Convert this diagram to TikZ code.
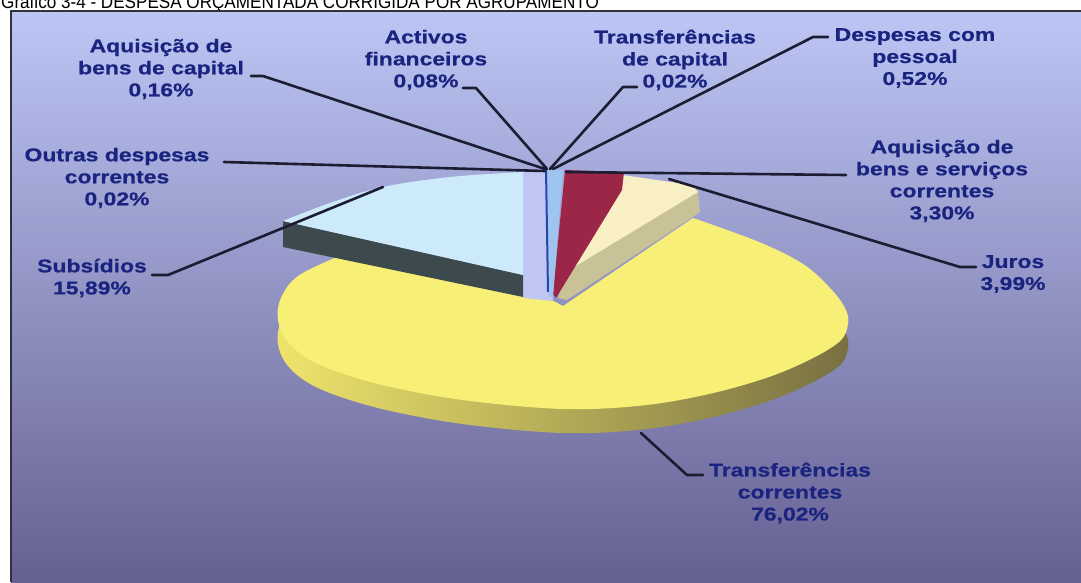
\documentclass[tikz,border=0pt]{standalone}
\usepackage{fontspec}
\setmainfont{Liberation Sans}
\newfontfamily\labfont[FakeStretch=1.24,FakeBold=0.6]{Liberation Sans Bold}
\newfontfamily\titfont[FakeStretch=0.9]{Liberation Sans}
\definecolor{labblue}{RGB}{26,36,128}
\definecolor{leadc}{RGB}{28,28,50}
\definecolor{framec}{RGB}{50,50,60}
\definecolor{bgtop}{RGB}{188,198,244}
\definecolor{bgmid}{RGB}{150,158,222}
\definecolor{bgbot}{RGB}{102,96,146}
\definecolor{ytop}{RGB}{248,240,118}
\definecolor{ysideL}{RGB}{238,228,108}
\definecolor{ysideM}{RGB}{206,196,92}
\definecolor{ysideR}{RGB}{120,112,66}
\definecolor{subtop}{RGB}{204,234,250}
\definecolor{subside}{RGB}{60,74,78}
\definecolor{redc}{RGB}{156,38,72}
\definecolor{creamtop}{RGB}{248,240,196}
\definecolor{creamside}{RGB}{200,194,150}
\definecolor{lavc}{RGB}{192,198,242}
\definecolor{bluedark}{RGB}{40,70,170}
\definecolor{bluelight}{RGB}{160,196,240}
\begin{document}
\begin{tikzpicture}[x=1pt,y=-1pt,
  lab/.style={font=\labfont\fontsize{18.5}{22}\selectfont, text=labblue, align=center, inner sep=0pt},
  leader/.style={draw=leadc, line width=2.6pt, line join=round, line cap=round}]
\useasboundingbox (0,0) rectangle (1081,582);
\clip (0,0) rectangle (1081,582);
\fill[white] (0,0) rectangle (1081,582);
\node[anchor=base west, inner sep=0pt, font=\titfont\fontsize{19}{19}\selectfont] (title) at (1,8.5) {Gráfico 3-4 - DESPESA ORÇAMENTADA CORRIGIDA POR AGRUPAMENTO};
\shade[top color=bgtop, middle color=bgmid, bottom color=bgbot] (11,11) rectangle (1081,582);
\draw[framec, line width=1.5pt] (11,582) -- (11,11) -- (1081,11);

% yellow slice: side then top
\shade[left color=ysideL, middle color=ysideM, right color=ysideR, shift={(0,24)}]
  (563,306) -- plot[smooth, tension=0.6] coordinates {(693,218) (759,242) (803,264) (830,288) (845,308) (848,324) (839,342) (805,362) (760,380) (700,396) (637,406) (563,409) (470,401) (400,389) (350,376) (312,361) (288,342) (278,320) (281,298) (298,276) (337,257)} -- (523,285) -- cycle;
\fill[ytop]
  (563,306) -- plot[smooth, tension=0.6] coordinates {(693,218) (759,242) (803,264) (830,288) (845,308) (848,324) (839,342) (805,362) (760,380) (700,396) (637,406) (563,409) (470,401) (400,389) (350,376) (312,361) (288,342) (278,320) (281,298) (298,276) (337,257)} -- (523,285) -- cycle;

% lavender gap
\fill[lavc] (523,172) -- (546,169) -- (553,301) -- (523,298) -- cycle;
% cream slice (Juros)
\fill[creamside] (698,192) -- (700,212) -- (567,300) -- (558,298) -- (566,272) -- cycle;
\fill[creamtop] (615,174) -- (692,185) -- (698,192) -- (566,272) -- (556,298) -- (600,200) -- cycle;
% red slice
\fill[redc] (565,170) -- (624,172) -- (622,190) -- (556,298) -- (553,294) -- cycle;
% thin blue slice
\fill[bluelight] (546,169) -- (563,170) -- (553,297) -- (549,297) -- cycle;
\draw[bluedark, line width=2pt] (546,169) -- (548,292);
% subsidios (exploded)
\fill[subside] (283,221) -- (523,275) -- (523,297) -- (283,247) -- cycle;
\fill[subtop] (283,221) -- plot[smooth, tension=0.6] coordinates {(283,221) (330,203) (383,187) (450,177) (523,172)} -- (523,275) -- cycle;

% pie anchor points
\coordinate (cA) at (545,169);
\coordinate (cB) at (547,169);
\coordinate (cC) at (550,169);
\coordinate (cD) at (553,169);
\coordinate (cE) at (566,172);
\coordinate (cF) at (669,179);
\coordinate (cG) at (545,171);
\coordinate (cH) at (383,187);
\coordinate (cI) at (641,433);

% labels
\node[lab] (l1) at (161,69) {Aquisição de\\bens de capital\\0,16\%};
\node[lab] (l2) at (426,60) {Activos\\financeiros\\0,08\%};
\node[lab] (l3) at (675,60) {Transferências\\de capital\\0,02\%};
\node[lab] (l4) at (915,58) {Despesas com\\pessoal\\0,52\%};
\node[lab] (l5) at (942,181) {Aquisição de\\bens e serviços\\correntes\\3,30\%};
\node[lab] (l6) at (1013,274) {Juros\\3,99\%};
\node[lab] (l7) at (117,178) {Outras despesas\\correntes\\0,02\%};
\node[lab] (l8) at (92,278) {Subsídios\\15,89\%};
\node[lab] (l9) at (790,493) {Transferências\\correntes\\76,02\%};

% leader start points
\coordinate (s1) at (251,76);
\coordinate (s2) at (463,88);
\coordinate (s3) at (637,87);
\coordinate (s4) at (828,37);
\coordinate (s5) at (846,175);
\coordinate (s6) at (976,267);
\coordinate (s7) at (224,162);
\coordinate (s8) at (152,275);
\coordinate (s9) at (703,475);

\draw[leader] (s1) -- ++(12,0) -- (cA);
\draw[leader] (s2) -- ++(13,0) -- (cB);
\draw[leader] (s3) -- ++(-14,0) -- (cC);
\draw[leader] (s4) -- ++(-15,0) -- (cD);
\draw[leader] (s5) -- (cE);
\draw[leader] (s6) -- ++(-16,0) -- (cF);
\draw[leader] (s7) -- (cG);
\draw[leader] (s8) -- ++(16,0) -- (cH);
\draw[leader] (s9) -- ++(-16,0) -- (cI);
\end{tikzpicture}
\end{document}
